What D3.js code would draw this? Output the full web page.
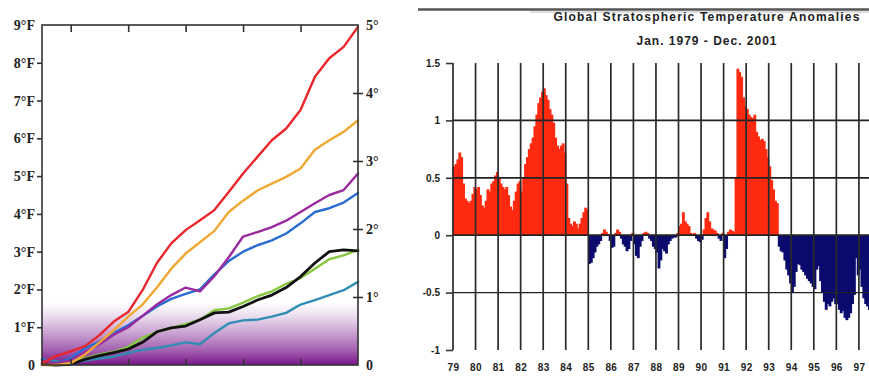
<!DOCTYPE html>
<html><head><meta charset="utf-8">
<script src="https://cdn.jsdelivr.net/npm/d3@7"></script>
<style>body{margin:0;background:#fff;} svg{display:block}</style>
</head><body>
<svg id="c" width="869" height="382"></svg>
<script>
// ================= LEFT CHART DATA (warming projections, °F) =================
const years = [1990,1995,2000,2005,2010,2015,2020,2025,2030,2035,2040,2045,2050,2055,2060,2065,2070,2075,2080,2085,2090,2095,2100];
const fTicks = [0,1,2,3,4,5,6,7,8,9];
const cTicks = [0,1,2,3,4,5];
const xTickYears = [2000,2020,2040,2060,2080];
const redLine    = [0.05,0.24,0.36,0.5,0.79,1.15,1.4,1.98,2.7,3.22,3.57,3.83,4.1,4.58,5.07,5.51,5.95,6.26,6.75,7.63,8.12,8.42,8.95];
const orangeLine = [0.0,0.0,0.05,0.28,0.6,0.92,1.28,1.6,2.05,2.55,2.95,3.25,3.55,4.05,4.35,4.62,4.8,4.98,5.2,5.7,5.95,6.17,6.48];
const purpleLine = [0.1,0.05,0.12,0.35,0.55,0.8,1.0,1.3,1.6,1.85,2.05,1.95,2.35,2.85,3.4,3.52,3.65,3.82,4.05,4.28,4.5,4.63,5.07];
const blueLine   = [0.15,0.05,0.18,0.45,0.62,0.85,1.05,1.3,1.55,1.75,1.88,2.0,2.4,2.75,3.0,3.17,3.3,3.48,3.75,4.05,4.15,4.3,4.55];
const greenLine  = [0.1,0.05,0.1,0.18,0.28,0.35,0.48,0.72,0.88,0.98,1.08,1.2,1.45,1.5,1.65,1.82,1.95,2.15,2.3,2.55,2.8,2.9,3.05];
const blackLine  = [0.02,0.0,0.02,0.15,0.25,0.33,0.42,0.6,0.88,0.98,1.03,1.2,1.38,1.4,1.55,1.72,1.85,2.05,2.34,2.7,3.0,3.05,3.02];
const tealLine   = [0.15,0.1,0.05,0.12,0.18,0.22,0.32,0.4,0.45,0.52,0.6,0.55,0.85,1.1,1.18,1.2,1.28,1.38,1.6,1.72,1.85,1.98,2.2];
const seriesList = [tealLine, greenLine, blackLine, blueLine, purpleLine, orangeLine, redLine];
const seriesColors = ["#2f8db3", "#86c840", "#111111", "#2a6cd0", "#9a2a9e", "#f0a832", "#e8262c"];

// ================= RIGHT CHART DATA (monthly anomalies, °C) =================
const barStartYear = 1979;
const monthlyAnomaly = [
  [0.6,0.62,0.66,0.72,0.68,0.45,0.32,0.3,0.28,0.3,0.36,0.42],      // 1979
  [0.4,0.42,0.35,0.26,0.24,0.3,0.4,0.38,0.45,0.47,0.52,0.55],      // 1980
  [0.5,0.45,0.42,0.4,0.42,0.35,0.25,0.22,0.3,0.38,0.45,0.47],      // 1981
  [0.38,0.5,0.62,0.68,0.75,0.8,0.85,0.95,1.05,1.15,1.2,1.25],      // 1982
  [1.28,1.22,1.18,1.1,1.05,0.98,0.85,0.78,0.75,0.78,0.8,0.72],     // 1983
  [0.45,0.15,0.1,0.08,0.12,0.1,0.06,0.1,0.15,0.2,0.24,0.22],       // 1984
  [-0.25,-0.24,-0.2,-0.15,-0.1,-0.08,-0.05,0.02,0.05,0.03,0.01,-0.05], // 1985
  [-0.11,-0.1,0.02,0.05,0.03,-0.03,-0.08,-0.1,-0.14,-0.12,-0.05,0.02], // 1986
  [-0.08,-0.18,-0.2,-0.1,-0.05,0.02,0.03,0.02,-0.03,-0.05,-0.1,-0.12], // 1987
  [-0.15,-0.29,-0.22,-0.12,-0.14,-0.16,-0.08,-0.05,-0.03,-0.02,-0.02,0.02], // 1988
  [0.08,0.1,0.2,0.12,0.1,0.08,0.02,0.01,0.02,-0.03,-0.05,-0.06],   // 1989
  [-0.04,0.05,0.15,0.2,0.12,0.06,0.05,0.04,0.02,-0.03,-0.05,0.02], // 1990
  [-0.2,-0.12,0.03,0.05,0.04,0.03,0.5,1.45,1.42,1.38,1.2,1.12],    // 1991
  [1.1,1.05,1.03,1.02,1.05,0.9,0.86,0.83,0.84,0.82,0.75,0.68],     // 1992
  [0.6,0.48,0.4,0.3,0.28,-0.1,-0.14,-0.15,-0.22,-0.3,-0.35,-0.42], // 1993
  [-0.5,-0.45,-0.32,-0.25,-0.26,-0.3,-0.32,-0.35,-0.38,-0.4,-0.42,-0.45], // 1994
  [-0.47,-0.3,-0.27,-0.4,-0.5,-0.58,-0.65,-0.6,-0.62,-0.58,-0.55,-0.6],   // 1995
  [-0.6,-0.65,-0.68,-0.66,-0.72,-0.74,-0.72,-0.68,-0.6,-0.52,-0.2,-0.35], // 1996
  [-0.3,-0.45,-0.55,-0.6,-0.62,-0.65]                               // 1997
];
const barYearTicks = d3.range(1979, 1998);
const anomalyTicks = [1.5,1,0.5,0,-0.5,-1];
const titleLines = ["Global  Stratospheric Temperature Anomalies", "Jan. 1979 - Dec. 2001"];

// ================= DRAW =================
const svg = d3.select("#c");

// ---------- LEFT ----------
const L = {x0: 42, x1: 358, y0: 365, y1: 25};
const xL = d3.scaleLinear().domain([1990, 2100]).range([L.x0, L.x1]);
const yF = d3.scaleLinear().domain([0, 9]).range([L.y0, L.y1]);
const yC = d3.scaleLinear().domain([0, 5]).range([L.y0, L.y1]);

const defs = svg.append("defs");
const grad = defs.append("linearGradient").attr("id","band").attr("x1",0).attr("y1",0).attr("x2",0).attr("y2",1);
[[0,"#ffffff"],[0.2,"#ece0f0"],[0.5,"#c89fd0"],[0.78,"#a05cad"],[1,"#7a168a"]].forEach(([o,c]) =>
  grad.append("stop").attr("offset", o).attr("stop-color", c));

svg.append("rect").attr("x", L.x0).attr("width", L.x1 - L.x0)
  .attr("y", yF(1.65)).attr("height", yF(0) - yF(1.65)).attr("fill", "url(#band)");

const line = d3.line().x((d,i) => xL(years[i])).y(d => yF(d)).curve(d3.curveLinear);
const gLines = svg.append("g");
seriesList.forEach((s, k) => {
  gLines.append("path").attr("d", line(s)).attr("fill","none")
    .attr("stroke", seriesColors[k]).attr("stroke-width", k === 2 ? 2.8 : 2.4)
    .attr("stroke-linejoin","round").attr("stroke-linecap","round");
});

const serif = "'Liberation Serif','Times New Roman',serif";
svg.append("rect").attr("x", L.x0).attr("y", L.y1).attr("width", L.x1-L.x0).attr("height", L.y0-L.y1)
  .attr("fill","none").attr("stroke","#333").attr("stroke-width",1.6);

const axL = svg.append("g").attr("transform", `translate(${L.x0},0)`)
  .call(d3.axisLeft(yF).tickValues(fTicks).tickSize(5).tickPadding(2)
    .tickFormat(d => d === 0 ? "0" : d + "°F"));
const axR = svg.append("g").attr("transform", `translate(${L.x1},0)`)
  .call(d3.axisRight(yC).tickValues(cTicks).tickSize(5).tickPadding(3)
    .tickFormat(d => d === 0 ? "0" : d + "°"));
[axL, axR].forEach(a => {
  a.select(".domain").remove();
  a.selectAll("line").attr("stroke","#333").attr("stroke-width",1.6);
  a.selectAll("text").attr("font-family", serif).attr("font-weight","bold").attr("font-size",14).attr("fill","#222");
});
axR.selectAll(".tick line").attr("x1", -5).attr("x2", 5);
axR.selectAll(".tick").filter(d => d === 0 || d === 5).select("line").remove();
axL.selectAll(".tick").filter(d => d === 0 || d === 9).select("line").remove();

const axT = svg.append("g").attr("transform", `translate(0,${L.y1})`)
  .call(d3.axisTop(xL).tickValues(xTickYears).tickSize(-7).tickFormat(""));
const axB = svg.append("g").attr("transform", `translate(0,${L.y0})`)
  .call(d3.axisBottom(xL).tickValues(xTickYears).tickSize(-6).tickFormat(""));
[axT, axB].forEach(a => { a.select(".domain").remove(); a.selectAll("line").attr("stroke","#333").attr("stroke-width",1.6); });

// ---------- RIGHT ----------
const yearW = 22.55;
const R = {x0: 453, y0: 350, y1: 63};
const xR = d3.scaleLinear().domain([1979, 2002]).range([R.x0, R.x0 + 23*yearW]);
const yR = d3.scaleLinear().domain([-1, 1.5]).range([R.y0, R.y1]);
const sans = "'Liberation Sans',Arial,sans-serif";

svg.append("line").attr("x1", 418).attr("x2", 869).attr("y1", 9.5).attr("y2", 9.5)
  .attr("stroke","#555").attr("stroke-width",2.5);
svg.append("line").attr("x1", 530).attr("x2", 869).attr("y1", 12).attr("y2", 12)
  .attr("stroke","#bbb").attr("stroke-width",1);

titleLines.forEach((t, i) => {
  svg.append("text").attr("x", 707).attr("y", i === 0 ? 21 : 45).attr("text-anchor","middle")
    .attr("font-family", sans).attr("font-weight","bold").attr("font-size", 12)
    .attr("letter-spacing", i === 0 ? "1.2px" : "1px").attr("fill","#222").text(t);
});

// bars
const months = [];
monthlyAnomaly.forEach((row, yi) => row.forEach((v, m) => months.push({t: barStartYear + yi + m/12, v})));
const bw = yearW / 12;
svg.append("g").selectAll("rect").data(months).join("rect")
  .attr("x", d => xR(d.t) - 0.3).attr("width", bw + 1)
  .attr("y", d => yR(Math.max(0, d.v))).attr("height", d => Math.abs(yR(d.v) - yR(0)))
  .attr("fill", d => d.v >= 0 ? "#ff2a10" : "#0b0b6e");

// grid
const gGrid = svg.append("g");
gGrid.selectAll("line.h").data([1, 0.5, 0, -0.5]).join("line")
  .attr("x1", R.x0).attr("x2", 869).attr("y1", d => yR(d)).attr("y2", d => yR(d))
  .attr("stroke", "#222").attr("stroke-width", d => d === -0.5 ? 1.2 : 1.8);
gGrid.selectAll("line.v").data(barYearTicks).join("line")
  .attr("x1", d => xR(d)).attr("x2", d => xR(d)).attr("y1", R.y1).attr("y2", R.y0)
  .attr("stroke", "#2a2a2a").attr("stroke-width", 1.7);

const axRY = svg.append("g").attr("transform", `translate(${R.x0},0)`)
  .call(d3.axisLeft(yR).tickValues(anomalyTicks).tickSize(7).tickPadding(6).tickFormat(d => d));
axRY.select(".domain").remove();
axRY.selectAll("line").attr("stroke","#333").attr("stroke-width",1.6);
axRY.selectAll("text").attr("font-family", sans).attr("font-weight","bold").attr("font-size",10).attr("fill","#222");

const axRX = svg.append("g").attr("transform", `translate(0,${R.y0})`)
  .call(d3.axisBottom(xR).tickValues(barYearTicks).tickSize(0).tickPadding(14)
    .tickFormat(d => String(d).slice(2)));
axRX.select(".domain").remove();
axRX.selectAll("text").attr("font-family", sans).attr("font-weight","bold").attr("font-size",10)
  .attr("letter-spacing","0.4px").attr("fill","#222");
</script>
</body></html>
